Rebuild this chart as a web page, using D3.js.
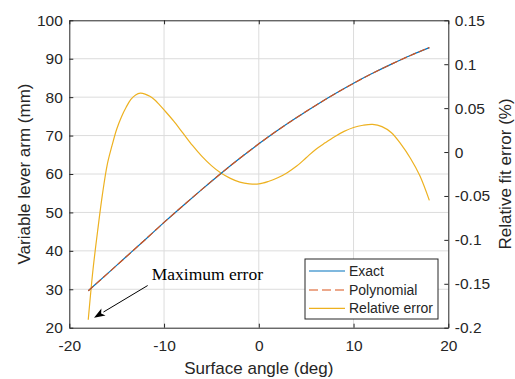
<!DOCTYPE html>
<html>
<head>
<meta charset="utf-8">
<script src="https://cdn.jsdelivr.net/npm/d3@7"></script>
<style>
    body { margin: 0; background: #fff; }
    svg text { font-family: "Liberation Sans", Arial, sans-serif; fill: #262626; }
</style>
</head>
<body>
<svg id="chart" width="515" height="379"></svg>
<script>
// Datos
const angles = [-18, -16, -14, -12, -10, -8, -6, -4, -2, 0, 2, 4, 6, 8, 10, 12, 14, 16, 18];
const exact = [29.6, 34.0, 38.45, 42.9, 47.4, 51.75, 56.0, 60.15, 64.1, 67.85, 71.4, 74.7, 77.85, 80.8, 83.6, 86.2, 88.6, 90.85, 92.9];
const polynomial = [29.6, 34.0, 38.45, 42.9, 47.4, 51.75, 56.0, 60.15, 64.1, 67.85, 71.4, 74.7, 77.85, 80.8, 83.6, 86.2, 88.6, 90.85, 92.9];

const errAngles = [-18, -17.5, -17, -16.5, -16, -15.5, -15, -14.5, -14, -13.5, -13, -12.5, -12, -11.5, -11, -10.5,
    -10, -9, -8, -7, -6, -5, -4, -3, -2, -1, 0, 1, 2, 3, 4, 5, 6, 7, 8, 9, 10, 11, 12, 13, 14, 15, 16, 17, 18];
const relError = [-0.191, -0.134, -0.089, -0.048, -0.0145, 0.007, 0.026, 0.040, 0.051, 0.060, 0.065, 0.067, 0.066, 0.0635, 0.0595, 0.054,
    0.048, 0.0355, 0.0215, 0.0075, -0.005, -0.0155, -0.024, -0.030, -0.0343, -0.0362, -0.0363, -0.0335, -0.0293, -0.0235, -0.016, -0.0065,
    0.003, 0.0105, 0.0175, 0.0235, 0.028, 0.0305, 0.0315, 0.029, 0.022, 0.009, -0.007, -0.027, -0.055];

const xTicks = [-20, -10, 0, 10, 20];
const leftTicks = [20, 30, 40, 50, 60, 70, 80, 90, 100];
const rightTicks = [-0.2, -0.15, -0.1, -0.05, 0, 0.05, 0.1, 0.15];
const seriesNames = ["Exact", "Polynomial", "Relative error"];

// anotacion: flecha hacia el error maximo
const arrowFrom = [-11.73, -0.152];
const arrowTo = [-17.39, -0.1886];
const noteText = "Maximum error";
const notePos = [-11.3, -0.1457];

const colors = ["#0072BD", "#D95319", "#EDB120"];
const ink = "#262626";

const plotLeft = 69.3, plotRight = 448.3, plotTop = 20.3, plotBottom = 327.7;

const x = d3.scaleLinear().domain([-20, 20]).range([plotLeft, plotRight]);
const yL = d3.scaleLinear().domain([20, 100]).range([plotBottom, plotTop]);
const yR = d3.scaleLinear().domain([-0.2, 0.15]).range([plotBottom, plotTop]);

const svg = d3.select("#chart");

// rejilla
const grid = svg.append("g").attr("stroke", "#dcdcdc").attr("stroke-width", 1);
grid.selectAll(".gx").data(xTicks.slice(1, -1)).enter().append("line")
    .attr("x1", d => x(d)).attr("x2", d => x(d)).attr("y1", plotTop).attr("y2", plotBottom);
grid.selectAll(".gy").data(leftTicks.slice(1, -1)).enter().append("line")
    .attr("x1", plotLeft).attr("x2", plotRight).attr("y1", d => yL(d)).attr("y2", d => yL(d));

// lineas
const lineL = d3.line().x(d => x(d[0])).y(d => yL(d[1])).curve(d3.curveNatural);
const lineR = d3.line().x(d => x(d[0])).y(d => yR(d[1])).curve(d3.curveCatmullRom.alpha(0.5));

svg.append("path").datum(d3.zip(errAngles, relError))
    .attr("d", lineR).attr("fill", "none").attr("stroke", colors[2]).attr("stroke-width", 1.2);
svg.append("path").datum(d3.zip(angles, exact))
    .attr("d", lineL).attr("fill", "none").attr("stroke", colors[0]).attr("stroke-width", 1.2);
svg.append("path").datum(d3.zip(angles, polynomial))
    .attr("d", lineL).attr("fill", "none").attr("stroke", colors[1]).attr("stroke-width", 1.2)
    .attr("stroke-dasharray", "7,3");

// ejes
function styleAxis(g, size) {
    g.selectAll("path, line").attr("stroke", ink);
    g.selectAll("text").attr("font-size", size).attr("font-family", "Liberation Sans, Arial, sans-serif").attr("fill", ink);
}

const fmt = d => String(+d.toFixed(2));

svg.append("g").attr("transform", `translate(0,${plotBottom})`)
    .call(d3.axisBottom(x).tickValues(xTicks).tickSizeInner(-4).tickSizeOuter(0).tickPadding(12).tickFormat(fmt))
    .call(g => styleAxis(g, 15.5));
svg.append("g").attr("transform", `translate(0,${plotTop})`)
    .call(d3.axisTop(x).tickValues(xTicks).tickSizeInner(-4).tickSizeOuter(0).tickFormat(""))
    .call(g => styleAxis(g, 15.5));
svg.append("g").attr("transform", `translate(${plotLeft},0)`)
    .call(d3.axisLeft(yL).tickValues(leftTicks).tickSizeInner(-4).tickSizeOuter(0).tickPadding(6.5).tickFormat(fmt))
    .call(g => styleAxis(g, 15.5));
svg.append("g").attr("transform", `translate(${plotRight},0)`)
    .call(d3.axisRight(yR).tickValues(rightTicks).tickSizeInner(-4).tickSizeOuter(0).tickPadding(6.5).tickFormat(fmt))
    .call(g => styleAxis(g, 15.5));

// titulos de ejes
svg.append("text").attr("x", (plotLeft + plotRight) / 2).attr("y", 374)
    .attr("text-anchor", "middle").attr("font-size", 17).text("Surface angle (deg)");
svg.append("text").attr("transform", `translate(30,${(plotTop + plotBottom) / 2}) rotate(-90)`)
    .attr("text-anchor", "middle").attr("font-size", 17).text("Variable lever arm (mm)");
svg.append("text").attr("transform", `translate(510.5,${(plotTop + plotBottom) / 2}) rotate(-90)`)
    .attr("text-anchor", "middle").attr("font-size", 17).text("Relative fit error (%)");

// anotacion
const x0 = x(arrowFrom[0]), y0 = yR(arrowFrom[1]);
const x1 = x(arrowTo[0]), y1 = yR(arrowTo[1]);
const len = Math.hypot(x1 - x0, y1 - y0);
const ux = (x1 - x0) / len, uy = (y1 - y0) / len;
const head = 11, half = 4;
svg.append("line").attr("x1", x0).attr("y1", y0)
    .attr("x2", x1 - ux * head).attr("y2", y1 - uy * head)
    .attr("stroke", "#000").attr("stroke-width", 1);
svg.append("path")
    .attr("d", `M${x1},${y1}L${x1 - ux * head - uy * half},${y1 - uy * head + ux * half}` +
        `L${x1 - ux * head * 0.75},${y1 - uy * head * 0.75}` +
        `L${x1 - ux * head + uy * half},${y1 - uy * head - ux * half}Z`)
    .attr("fill", "#000");
svg.append("text").attr("x", x(notePos[0])).attr("y", yR(notePos[1]))
    .style("font-family", "'Liberation Serif', 'Times New Roman', serif").style("fill", "#000")
    .attr("font-size", 17.5).text(noteText);

// leyenda
const legend = svg.append("g").attr("transform", "translate(305,259)");
legend.append("rect").attr("width", 133).attr("height", 60)
    .attr("fill", "#fff").attr("stroke", ink).attr("stroke-width", 1);
const entryY = [12, 31, 49.3];
seriesNames.forEach(function (name, i) {
    legend.append("line").attr("x1", 4).attr("x2", 40).attr("y1", entryY[i]).attr("y2", entryY[i])
        .attr("stroke", colors[i]).attr("stroke-width", 1.2)
        .attr("stroke-dasharray", i === 1 ? "9,4" : null);
    legend.append("text").attr("x", 44).attr("y", entryY[i]).attr("dy", "0.35em")
        .attr("font-size", 14).text(name);
});
</script>
</body>
</html>
